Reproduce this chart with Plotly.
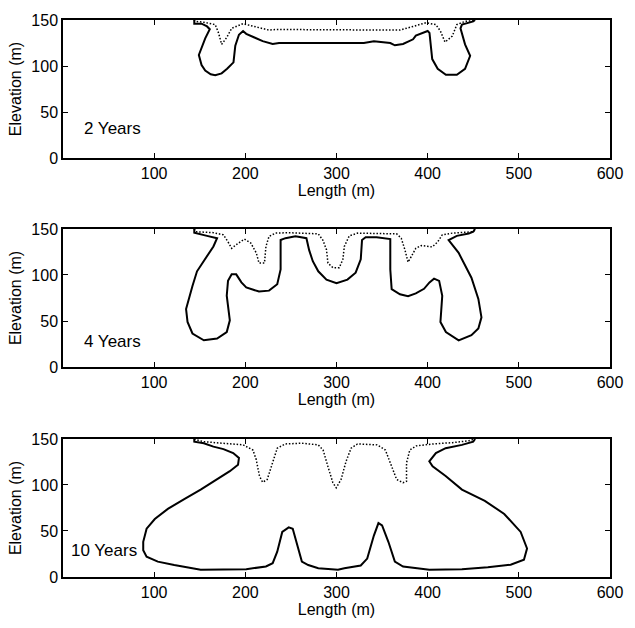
import plotly.graph_objects as go

# ---------------- data (metres) ----------------
# Panel 1: 2 years
p1_solid_x = [144, 144, 152, 158, 161, 156, 149, 152, 156, 162, 167, 174, 180, 187, 189, 193, 197.5, 201, 210, 219, 230, 237, 260, 300, 330, 341, 350, 359, 364, 373, 384, 387, 400, 402, 405, 411, 420, 432, 441, 446.6, 441, 436, 437.6, 445, 450, 452]
p1_solid_y = [150, 146, 146, 143, 140, 130, 112, 101, 95, 91, 90, 92, 97, 104, 122, 134, 138, 135, 131, 127, 124, 125, 125, 125, 125, 127, 126, 125, 122.5, 124, 129, 133, 138, 136, 107.5, 97, 90.5, 90.5, 97, 111, 123.5, 141, 145, 147, 148.5, 150]
p1_dot_x = [144, 144.5, 154.5, 167, 170.6, 174, 179.6, 185, 197.5, 212, 226, 233, 300, 369.5, 384, 398, 409, 414, 419, 427, 432, 441, 452, 452]
p1_dot_y = [150, 148.6, 147.5, 145, 136, 123.5, 131, 141, 146, 142.5, 139, 139.7, 139.7, 139, 143, 147, 145, 138, 126, 132.5, 145, 148.5, 149.5, 150]

# Panel 2: 4 years
p2_solid_x = [144, 144, 158, 169, 165, 156, 147, 142, 135, 136.6, 142, 154.5, 169, 179.6, 183, 179.6, 181, 185, 190, 195.7, 201, 215, 226, 235, 238.7, 238.7, 244, 255, 267, 270, 274, 280, 289, 300, 312, 321, 326.6, 328, 332, 344, 359, 359, 360.5, 369.6, 378.5, 387, 396, 402, 407, 412.6, 416, 414, 420, 434, 448, 455.6, 459, 455.6, 448, 434, 423, 432, 445, 450, 452]
p2_solid_y = [150, 146, 142.5, 140, 131, 117, 104, 88, 63, 49, 36.4, 29, 31, 38, 50.7, 77.5, 93.6, 100.7, 100.7, 92, 86.5, 82, 83, 90, 106, 138, 140, 142, 140, 127, 115, 104, 95, 91, 95, 102.5, 117, 138, 141, 141, 139, 106, 84.7, 79, 77, 80, 85, 92, 96, 93.6, 77.5, 49, 38, 29, 34.6, 41.8, 54, 74, 97, 124, 138, 142.5, 145, 147, 150]
p2_dot_x = [144, 145.5, 165, 176, 181, 185, 190, 199, 206, 212, 215, 221, 222.6, 226, 233, 247, 280, 285, 289, 290.6, 296, 303, 307, 308.6, 314, 323, 366, 371, 375, 378.5, 382, 387, 393, 405, 411, 416, 427, 441, 450, 452]
p2_dot_y = [150, 147, 146, 143.6, 136, 129, 133, 139, 134.7, 124, 113, 113, 131, 142, 145.5, 146, 144.7, 138, 127.5, 113, 108, 108, 117, 131, 142.5, 145.5, 144.7, 140, 127.5, 114, 120, 129, 132, 130.5, 136, 143.6, 145.5, 146, 147, 150]

# Panel 3: 10 years
p3_solid_x = [144, 144, 154.5, 165, 176, 186.7, 193, 192, 183, 169, 151, 133, 115, 100.7, 91.7, 88, 88, 91.7, 104, 122, 151, 201, 222.6, 230, 235, 240.5, 247.6, 252, 262, 269, 280, 301.6, 308.6, 326.6, 333.7, 341, 346, 350, 357, 364, 369.6, 373, 401.8, 437.6, 466, 491, 505.6, 509, 502, 484, 462.7, 437.6, 419.7, 405.4, 401.8, 409, 419.7, 437.6, 450, 452]
p3_solid_y = [150, 147, 145.4, 141.7, 139, 134.7, 129.3, 122, 115, 106, 95, 84.6, 74, 63, 52.5, 38.3, 29, 22, 16.7, 13, 8, 8.5, 11.4, 15, 27.5, 49, 54, 52.5, 16.8, 13, 9.6, 8, 9.6, 12.5, 20, 45, 58.6, 56, 38, 16.7, 13, 11.4, 8, 8.5, 10.7, 13.4, 18.7, 31, 49, 68.5, 82.8, 95, 109.7, 120.4, 125.7, 134.7, 140, 143.6, 147, 150]
p3_dot_x = [144, 144.4, 154.5, 176, 197.5, 208.3, 212, 215.5, 219, 224, 230, 235, 244, 262, 280, 285.3, 290.6, 296, 299.7, 305, 310.5, 316, 323, 344.6, 353.6, 360.8, 366, 373, 376.8, 376.8, 380.4, 387.6, 405.5, 427, 445, 452]
p3_dot_y = [150, 149.6, 147, 145.4, 143.6, 138, 127.5, 109.6, 103, 106, 124, 140, 144.6, 145.4, 143.6, 138, 120, 102.5, 97, 106, 125.7, 140, 144.6, 143.6, 138, 120, 106, 102.5, 104, 124, 138, 142.5, 144.6, 146, 148, 150]

panel_labels = ["2 Years", "4 Years", "10 Years"]
label_pos_x = [21, 21, 7]
label_pos_y = [32, 28, 29]

x_ticks = [100, 200, 300, 400, 500, 600]
y_ticks = [0, 50, 100, 150]

panels = [
    (p1_solid_x, p1_solid_y, p1_dot_x, p1_dot_y),
    (p2_solid_x, p2_solid_y, p2_dot_x, p2_dot_y),
    (p3_solid_x, p3_solid_y, p3_dot_x, p3_dot_y),
]

FONT = "Liberation Sans, Arial, Helvetica, sans-serif"
fig = go.Figure()

domains = [[0.7522, 1.0], [0.3770, 0.6248], [0.0, 0.2478]]

for i, (sx, sy, dx, dy) in enumerate(panels):
    n = "" if i == 0 else str(i + 1)
    fig.add_trace(go.Scatter(x=dx, y=dy, mode="lines", xaxis="x" + n, yaxis="y" + n,
                             line=dict(color="black", width=1.5, dash="1.5px,1.8px"), showlegend=False))
    fig.add_trace(go.Scatter(x=sx, y=sy, mode="lines", xaxis="x" + n, yaxis="y" + n,
                             line=dict(color="black", width=2), showlegend=False))
    common = dict(showgrid=False, zeroline=False, showline=True, linecolor="black", linewidth=1.5,
                  mirror="ticks", ticks="inside", ticklen=5, tickwidth=1, tickcolor="black",
                  tickfont=dict(family=FONT, size=16, color="black"))
    fig.update_layout({
        "xaxis" + n: dict(common, domain=[0, 1], range=[0, 600], tickvals=x_ticks,
                          anchor="y" + n,
                          title=dict(text="Length (m)", font=dict(family=FONT, size=16, color="black"), standoff=4)),
        "yaxis" + n: dict(common, domain=domains[i], range=[0, 150], tickvals=y_ticks,
                          anchor="x" + n,
                          title=dict(text="Elevation (m)", font=dict(family=FONT, size=16, color="black"), standoff=6)),
    })
    fig.add_annotation(x=label_pos_x[i], y=label_pos_y[i], xref="x" + n, yref="y" + n,
                       text=panel_labels[i], showarrow=False, xanchor="left", yanchor="middle",
                       font=dict(family=FONT, size=17, color="black"))

fig.update_layout(width=635, height=628, margin=dict(l=63, r=15, t=17, b=46),
                  paper_bgcolor="white", plot_bgcolor="white")

fig.write_html("out.html")
